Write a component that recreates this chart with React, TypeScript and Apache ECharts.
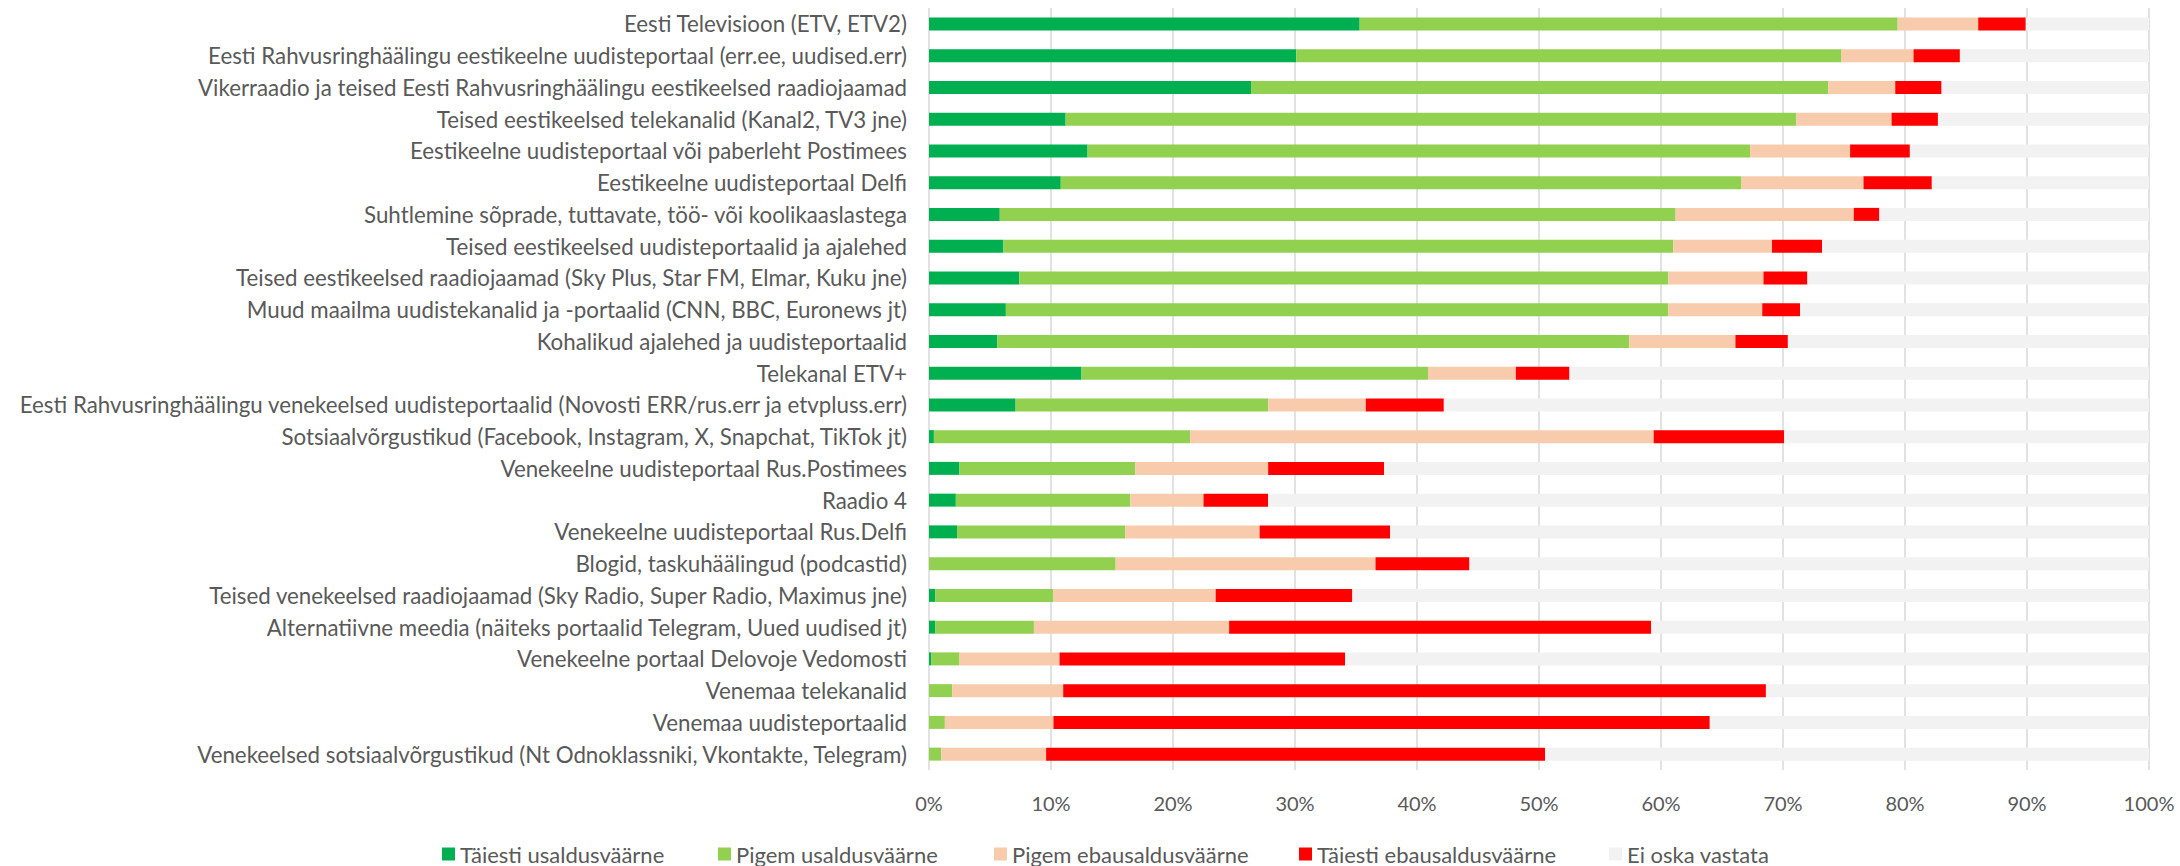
import React, { useEffect, useRef } from "react";
import * as echarts from "echarts";

const categories = [
  "Eesti Televisioon (ETV, ETV2)",
  "Eesti Rahvusringhäälingu eestikeelne uudisteportaal (err.ee, uudised.err)",
  "Vikerraadio ja teised Eesti Rahvusringhäälingu eestikeelsed raadiojaamad",
  "Teised eestikeelsed telekanalid (Kanal2, TV3 jne)",
  "Eestikeelne uudisteportaal või paberleht Postimees",
  "Eestikeelne uudisteportaal Delfi",
  "Suhtlemine sõprade, tuttavate, töö- või koolikaaslastega",
  "Teised eestikeelsed uudisteportaalid ja ajalehed",
  "Teised eestikeelsed raadiojaamad (Sky Plus, Star FM, Elmar, Kuku jne)",
  "Muud maailma uudistekanalid ja -portaalid (CNN, BBC, Euronews jt)",
  "Kohalikud ajalehed ja uudisteportaalid",
  "Telekanal ETV+",
  "Eesti Rahvusringhäälingu venekeelsed uudisteportaalid (Novosti ERR/rus.err ja etvpluss.err)",
  "Sotsiaalvõrgustikud (Facebook, Instagram, X, Snapchat, TikTok jt)",
  "Venekeelne uudisteportaal Rus.Postimees",
  "Raadio 4",
  "Venekeelne uudisteportaal Rus.Delfi",
  "Blogid, taskuhäälingud (podcastid)",
  "Teised venekeelsed raadiojaamad (Sky Radio, Super Radio, Maximus jne)",
  "Alternatiivne meedia (näiteks portaalid Telegram, Uued uudised jt)",
  "Venekeelne portaal Delovoje Vedomosti",
  "Venemaa telekanalid",
  "Venemaa uudisteportaalid",
  "Venekeelsed sotsiaalvõrgustikud (Nt Odnoklassniki, Vkontakte, Telegram)",
];

const seriesNames = [
  "Täiesti usaldusväärne",
  "Pigem usaldusväärne",
  "Pigem ebausaldusväärne",
  "Täiesti ebausaldusväärne",
  "Ei oska vastata",
];

const taiestiUsaldus = [35.3, 30.1, 26.4, 11.2, 13.0, 10.8, 5.8, 6.1, 7.4, 6.3, 5.6, 12.5, 7.1, 0.4, 2.5, 2.2, 2.3, 0, 0.5, 0.5, 0.2, 0, 0, 0];
const pigemUsaldus = [44.1, 44.7, 47.3, 59.9, 54.3, 55.8, 55.4, 54.9, 53.2, 54.3, 51.8, 28.4, 20.7, 21.0, 14.4, 14.3, 13.8, 15.3, 9.7, 8.1, 2.3, 1.9, 1.3, 1.0];
const pigemEbausaldus = [6.6, 5.9, 5.5, 7.8, 8.2, 10.0, 14.6, 8.1, 7.8, 7.7, 8.7, 7.2, 8.0, 38.0, 10.9, 6.0, 11.0, 21.3, 13.3, 16.0, 8.2, 9.1, 8.9, 8.6];
const taiestiEbausaldus = [3.9, 3.8, 3.8, 3.8, 4.9, 5.6, 2.1, 4.1, 3.6, 3.1, 4.3, 4.4, 6.4, 10.7, 9.5, 5.3, 10.7, 7.7, 11.2, 34.6, 23.4, 57.6, 53.8, 40.9];
const eiOska = [10.1, 15.5, 17.0, 17.3, 19.6, 17.8, 22.1, 26.8, 28.0, 28.6, 29.6, 47.5, 57.8, 29.9, 62.7, 72.2, 62.2, 55.7, 65.3, 40.8, 65.9, 31.4, 36.0, 49.5];

const seriesValues = [taiestiUsaldus, pigemUsaldus, pigemEbausaldus, taiestiEbausaldus, eiOska];
const colors = ["#00B050", "#92D050", "#F8CBAD", "#FF0000", "#F2F2F2"];
const legendLefts = [442, 718, 994, 1299, 1609];

const FONT = "Lato, 'Noto Sans', sans-serif";

export default function App() {
  const ref = useRef<HTMLDivElement>(null);
  useEffect(() => {
    if (!ref.current) return;
    const chart = echarts.init(ref.current, undefined, { renderer: "svg" });
    chart.setOption({
      animation: false,
      backgroundColor: "#ffffff",
      grid: { left: 929, right: 31, top: 8, bottom: 96 },
      xAxis: {
        type: "value",
        min: 0,
        max: 100,
        interval: 10,
        axisLabel: {
          formatter: "{value}%",
          color: "#595959",
          fontSize: 20,
          fontFamily: FONT,
          margin: 23,
        },
        axisLine: { show: false },
        axisTick: { show: false },
        splitLine: { show: true, lineStyle: { color: "#D9D9D9", width: 1.5 } },
      },
      yAxis: {
        type: "category",
        data: categories,
        inverse: true,
        axisLine: { show: false },
        axisTick: { show: false },
        axisLabel: {
          color: "#595959",
          fontSize: 22.3,
          fontFamily: FONT,
          margin: 22,
        },
      },
      legend: seriesNames.map((n, i) => ({
        data: [n],
        left: legendLefts[i],
        top: 843,
        padding: 0,
        itemWidth: 13,
        itemHeight: 13,
        itemGap: 0,
        icon: "rect",
        textStyle: { color: "#595959", fontSize: 22, fontFamily: FONT },
      })),
      series: seriesNames.map((n, i) => ({
        name: n,
        type: "bar",
        stack: "total",
        barWidth: 13,
        data: seriesValues[i],
        itemStyle: { color: colors[i] },
      })),
    });
    return () => chart.dispose();
  }, []);
  return (
    <div
      ref={ref}
      style={{ position: "absolute", left: 0, top: 0, width: 2180, height: 866 }}
    />
  );
}
